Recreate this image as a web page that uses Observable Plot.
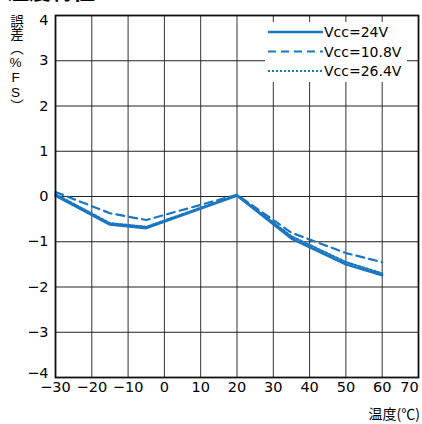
<!DOCTYPE html>
<html>
<head>
<meta charset="utf-8">
<script src="https://cdn.jsdelivr.net/npm/d3@7"></script>
<script src="https://cdn.jsdelivr.net/npm/@observablehq/plot@0.6"></script>
<style>
  html, body { margin: 0; padding: 0; background: #fff; }
  #wrap { position: relative; width: 422px; height: 424px; overflow: hidden; font-family: "DejaVu Sans", sans-serif; }
  #title { position: absolute; left: 7px; top: -27px; font: bold 22px "Noto Sans CJK JP", sans-serif; color: #000; white-space: nowrap; }
  #ylabel { position: absolute; left: 7px; top: 14px; writing-mode: vertical-rl; text-orientation: upright; font: 13.5px "Liberation Sans", "Noto Sans CJK JP", sans-serif; line-height: 16px; color: #000; }
  #xlabel { position: absolute; right: 2px; top: 403px; font: 14px "Noto Sans CJK JP", sans-serif; color: #000; white-space: nowrap; }
  #legend { position: absolute; left: 265px; top: 22px; width: 142px; height: 60px; background: #fff; }
  #legend svg { display: block; }
</style>
</head>
<body>
<div id="wrap">
  <div id="chart"></div>
  <div id="title">温度特性</div>
  <div id="ylabel">誤差（%FS）</div>
  <div id="xlabel">温度(℃)</div>
  <div id="legend"></div>
</div>
<script>
// Data
const temps = [-30, -15, -5, 20, 35, 50, 60];
const seriesNames = ["Vcc=24V", "Vcc=10.8V", "Vcc=26.4V"];
const vcc24 = [0.02, -0.62, -0.70, 0.02, -0.93, -1.50, -1.74];
const vcc108 = [0.10, -0.37, -0.52, 0.04, -0.80, -1.25, -1.45];
const vcc264 = [0.05, -0.59, -0.67, 0.03, -0.88, -1.45, -1.70];
const xTicks = [-30, -20, -10, 0, 10, 20, 30, 40, 50, 60, 70];
const yTicks = [-4, -3, -2, -1, 0, 1, 2, 3, 4];

const blue = "#1a76c0";
const font = "'DejaVu Sans', sans-serif";
const styles = [
  { strokeWidth: 2.5, strokeDasharray: null },
  { strokeWidth: 2.2, strokeDasharray: "8,5" },
  { strokeWidth: 2.2, strokeDasharray: "2,2" }
];
const allSeries = [vcc24, vcc108, vcc264];
const rows = [];
allSeries.forEach((vals, s) => temps.forEach((t, i) => rows.push({ series: seriesNames[s], t, v: vals[i] })));

const xMain = xTicks.slice(0, -1), xLast = xTicks.slice(-1);
const yMid = yTicks.slice(1, -1), yTop = yTicks.slice(-1), yBot = yTicks.slice(0, 1);
const axOpts = { tickSize: 0, fontSize: 14.5 };

const chart = Plot.plot({
  width: 422,
  height: 424,
  marginLeft: 55,
  marginRight: 4,
  marginTop: 15,
  marginBottom: 47,
  style: { fontFamily: font, fontSize: "14.5px", color: "#000", background: "#fff" },
  x: { domain: [-30, 70], label: null },
  y: { domain: [-4, 4], label: null },
  marks: [
    Plot.gridX(xTicks, { stroke: "#333", strokeOpacity: 1, strokeWidth: 1 }),
    Plot.gridY(yTicks, { stroke: "#222", strokeOpacity: 1, strokeWidth: 1 }),
    ...seriesNames.map((name, s) => Plot.line(rows.filter(d => d.series === name), {
      x: "t", y: "v", stroke: blue, strokeWidth: styles[s].strokeWidth,
      strokeDasharray: styles[s].strokeDasharray, strokeLinejoin: "round"
    })),
    Plot.frame({ stroke: "#111", strokeWidth: 1.8 }),
    Plot.axisX(xMain, { ...axOpts, tickPadding: 4, label: null }),
    Plot.axisX(xLast, { ...axOpts, tickPadding: 4, dx: -9, label: null }),
    Plot.axisY(yMid, { ...axOpts, tickPadding: 7, label: null }),
    Plot.axisY(yTop, { ...axOpts, tickPadding: 7, dy: 5, label: null }),
    Plot.axisY(yBot, { ...axOpts, tickPadding: 7, dy: -4, label: null })
  ]
});
document.getElementById("chart").appendChild(chart);

// Legend
const lg = d3.select("#legend").append("svg").attr("width", 142).attr("height", 60);
seriesNames.forEach((name, i) => {
  const y = 10 + i * 19.5;
  lg.append("line").attr("x1", 3).attr("x2", 58).attr("y1", y).attr("y2", y)
    .attr("stroke", blue).attr("stroke-width", styles[i].strokeWidth)
    .attr("stroke-dasharray", styles[i].strokeDasharray);
  lg.append("text").attr("x", 59).attr("y", y + 5).text(name)
    .attr("font-family", font).attr("font-size", 14).attr("fill", "#000");
});
</script>
</body>
</html>
